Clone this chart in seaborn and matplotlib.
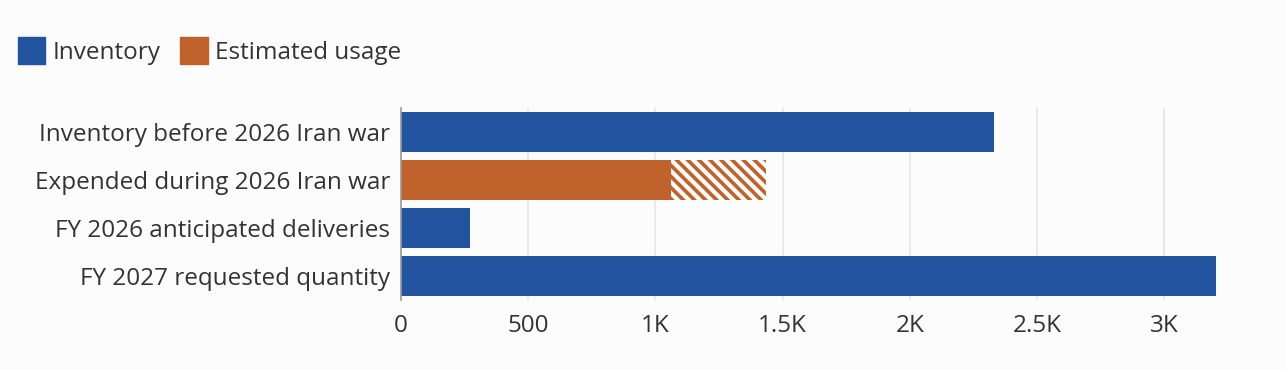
import pandas as pd
import seaborn as sns
import matplotlib.pyplot as plt
from matplotlib.patches import Patch

# values
labels = ["Inventory before 2026 Iran war", "Expended during 2026 Iran war",
          "FY 2026 anticipated deliveries", "FY 2027 requested quantity"]
kinds = ["Inventory", "Estimated usage", "Inventory", "Inventory"]
low = [2332, 1062, 270, 3203]    # solid part
high = [2332, 1434, 270, 3203]   # upper estimate (hatched extension)
tick_vals = [0, 500, 1000, 1500, 2000, 2500, 3000]
tick_text = ["0", "500", "1K", "1.5K", "2K", "2.5K", "3K"]

blue, orange = "#22539f", "#c0622c"
palette = {"Inventory": blue, "Estimated usage": orange}

sns.set_theme(style="white")
plt.rcParams['font.family'] = ['Open Sans', 'DejaVu Sans']
plt.rcParams['hatch.linewidth'] = 3.0
fs = 17.5

df = pd.DataFrame({"label": labels, "kind": kinds, "low": low, "high": high})

fig = plt.figure(figsize=(12.86, 3.70), dpi=100, facecolor="#fcfcfc")
ax = fig.add_axes([401 / 1286, 70 / 370, 815 / 1286, 192 / 370])
ax.set_facecolor("#fcfcfc")

# hatched upper estimate first, then the solid bars on top
sns.barplot(data=df, y="label", x="high", hue="kind", palette=palette,
            dodge=False, width=0.83, legend=False, ax=ax, saturation=1,
            linewidth=0)
hatched = [h for h, l in zip(high, low) if h > l]
for patch in ax.patches:
    if round(patch.get_width()) in hatched:
        patch.set_hatch("\\\\\\")
        patch.set_edgecolor("white")
        patch.set_linewidth(0)
sns.barplot(data=df, y="label", x="low", hue="kind", palette=palette,
            dodge=False, width=0.83, legend=False, ax=ax, saturation=1,
            linewidth=0)

ax.set_xlim(0, max(high))
ax.set_ylim(3.5, -0.5)
ax.set_xticks(tick_vals, tick_text)
ax.grid(axis="x", color="#e6e6e6", lw=1.2)
ax.set_axisbelow(True)
ax.set_xlabel("")
ax.set_ylabel("")
ax.tick_params(axis="both", length=0, labelsize=fs, labelcolor="#333333")
ax.tick_params(axis="x", pad=10)
ax.tick_params(axis="y", pad=8)
for s in ["top", "right", "bottom"]:
    ax.spines[s].set_visible(False)
ax.spines["left"].set_color("#999999")
ax.spines["left"].set_linewidth(1.2)

handles = [Patch(color=blue, label="Inventory"),
           Patch(color=orange, label="Estimated usage")]
fig.legend(handles=handles, loc="upper left", bbox_to_anchor=(-0.003, 0.958),
           ncol=2, frameon=False, fontsize=fs, handlelength=1.12,
           handleheight=1.29, handletextpad=0.3, columnspacing=0.82,
           labelcolor="#333333")

plt.savefig("out.png", dpi=100, facecolor=fig.get_facecolor())
